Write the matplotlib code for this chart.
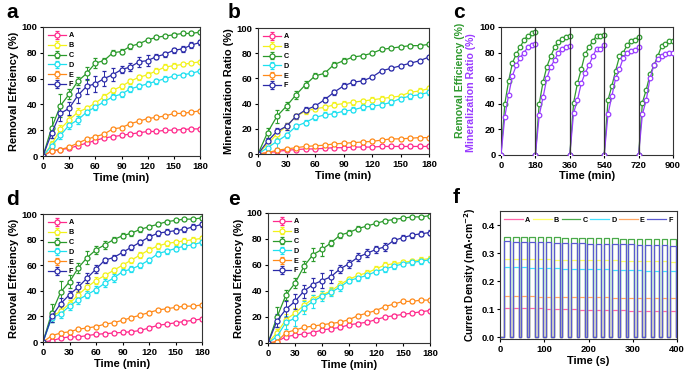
import numpy as np
import matplotlib
matplotlib.use("Agg")
import matplotlib.pyplot as plt

plt.rcParams['font.family'] = ['Liberation Sans', 'DejaVu Sans']
plt.rcParams['font.weight'] = 'bold'
plt.rcParams['axes.labelweight'] = 'bold'
plt.rcParams['mathtext.default'] = 'bf'

# ---------------- data ----------------
t = [0, 10, 20, 30, 40, 50, 60, 70, 80, 90, 100, 110, 120, 130, 140, 150, 160, 170, 180]
labels = ['A', 'B', 'C', 'D', 'E', 'F']

a_A = [0, 4, 5, 6, 8, 10, 12, 14, 15, 16, 17, 18, 19, 19, 20, 20, 20.5, 21, 21]
a_B = [0, 9, 21, 28, 34, 37, 41, 46, 51, 54, 58, 61, 63, 66, 69, 70, 71, 72, 73]
a_C = [0, 22, 39, 48, 58, 64, 72, 74, 80, 81, 85, 87, 90, 92, 93, 94, 95, 95, 96]
a_D = [0, 8, 16, 24, 28, 34, 38, 42, 46, 48, 52, 54, 56, 58, 60, 62, 63, 64, 66]
a_E = [0, 4, 5, 7, 10, 13, 15, 17, 21, 22, 25, 27, 29, 30, 31, 33, 33, 34, 35]
a_F = [0, 18, 33, 37, 47, 54, 56, 60, 63, 67, 69, 73, 74, 77, 79, 82, 83, 86, 88]
a_errA = [0, 1, 1, 1, 1, 1, 1, 1, 1, 1, 1, 1, 1, 1, 1, 1, 1, 1, 1]
a_errB = [0, 3, 3, 3, 3, 2, 2, 2, 2, 2, 2, 2, 2, 2, 2, 2, 1, 1, 1]
a_errC = [0, 8, 9, 4, 3, 5, 4, 2, 2, 2, 2, 1, 1, 1, 1, 1, 1, 1, 1]
a_errD = [0, 3, 3, 3, 3, 2, 2, 2, 2, 2, 2, 2, 2, 2, 2, 1, 1, 1, 1]
a_errE = [0, 1, 1, 1, 1, 1, 1, 1, 1, 1, 1, 1, 1, 1, 1, 1, 1, 1, 1]
a_errF = [0, 4, 6, 5, 6, 6, 6, 6, 5, 3, 3, 4, 4, 2, 2, 2, 2, 2, 2]

b_A = [0, 1, 2, 3, 3.5, 4, 4, 4.5, 5, 5, 5.5, 5.5, 5.5, 6, 6, 6, 6, 6, 6]
b_B = [0, 8, 16, 22, 30, 34, 36, 37, 39, 40, 41, 42, 43, 44, 45, 46, 49, 50, 52]
b_C = [0, 17, 30, 38, 47, 55, 62, 64, 71, 74, 77, 78, 80, 83, 84, 85, 86, 86, 87]
b_D = [0, 5, 10, 15, 22, 25, 29, 31, 32, 34, 35, 37, 38, 39, 41, 44, 46, 47, 49]
b_E = [0, 1, 3, 4, 5, 6, 6.5, 7, 8, 8.5, 9, 9.5, 10, 11, 12, 12, 12.5, 13, 13]
b_F = [0, 10, 18, 22, 30, 35, 38, 43, 49, 54, 57, 58, 61, 66, 68, 70, 72, 74, 77]
b_errA = [0, 1, 1, 1, 1, 1, 1, 1, 1, 1, 1, 1, 1, 1, 1, 1, 1, 1, 1]
b_errB = [0, 2, 3, 3, 2, 2, 2, 2, 2, 2, 2, 2, 2, 2, 2, 2, 2, 2, 2]
b_errC = [0, 4, 5, 3, 3, 3, 2, 2, 2, 2, 1, 1, 1, 1, 1, 1, 1, 1, 1]
b_errD = [0, 3, 5, 2, 2, 2, 2, 2, 2, 2, 2, 2, 2, 2, 2, 2, 2, 2, 2]
b_errE = [0, 1, 1, 1, 1, 1, 1, 1, 1, 1, 1, 1, 1, 1, 1, 1, 1, 1, 1]
b_errF = [0, 3, 3, 3, 2, 2, 2, 2, 2, 2, 2, 2, 1, 1, 1, 1, 1, 1, 1]

d_A = [0, 1, 3, 4, 4, 5, 6, 6.5, 7, 7.5, 8, 9, 11, 13, 14, 15, 16, 17, 18]
d_B = [0, 20, 24, 30, 37, 43, 48, 52, 56, 60, 64, 68, 72, 75, 77, 78, 79, 80, 81]
d_C = [0, 23, 39, 47, 58, 66, 72, 76, 80, 83, 85, 88, 90, 92, 94, 95, 96, 96, 97]
d_D = [0, 19, 22, 28, 33, 37, 41, 46, 50, 55, 57, 60, 64, 69, 71, 73, 75, 76, 78]
d_E = [0, 5, 7, 8, 10, 11, 12, 14, 15, 17, 19, 21, 23, 25, 26, 27, 28, 28, 29]
d_F = [0, 20, 30, 37, 43, 50, 57, 64, 66, 70, 74, 78, 82, 85, 86, 87, 88, 90, 92]
d_errA = [0, 1, 1, 1, 1, 1, 1, 1, 1, 1, 1, 1, 1, 1, 1, 1, 1, 1, 1]
d_errB = [0, 3, 3, 3, 3, 3, 3, 2, 2, 2, 2, 2, 2, 2, 2, 2, 2, 2, 2]
d_errC = [0, 7, 9, 5, 4, 5, 3, 3, 2, 2, 2, 2, 1, 1, 1, 1, 1, 1, 1]
d_errD = [0, 3, 3, 3, 3, 3, 3, 3, 3, 2, 2, 2, 2, 2, 2, 2, 2, 2, 2]
d_errE = [0, 1, 1, 1, 1, 1, 1, 1, 1, 1, 1, 1, 1, 1, 1, 1, 1, 1, 1]
d_errF = [0, 4, 4, 3, 4, 4, 3, 2, 2, 2, 2, 2, 2, 2, 2, 2, 2, 2, 2]

e_A = [0, 1, 5, 6, 7, 8, 10, 11, 12, 14, 15, 16, 18, 20, 21, 22, 23, 24, 25]
e_B = [0, 8, 18, 23, 29, 34, 37, 40, 45, 49, 52, 54, 57, 60, 61, 62, 63, 64, 65]
e_C = [0, 20, 37, 46, 59, 68, 72, 77, 83, 85, 88, 90, 92, 94, 95, 96, 97, 97, 98]
e_D = [0, 5, 16, 19, 27, 32, 36, 39, 43, 48, 50, 52, 55, 57, 59, 61, 62, 63, 64]
e_E = [0, 1, 8, 10, 12, 13, 14, 15, 16, 18, 21, 23, 25, 28, 30, 32, 32, 33, 33]
e_F = [0, 17, 26, 32, 40, 45, 48, 51, 57, 61, 66, 69, 72, 74, 79, 81, 83, 84, 85]
e_errA = [0, 1, 1, 1, 1, 1, 1, 1, 1, 1, 1, 1, 1, 1, 1, 1, 1, 1, 1]
e_errB = [0, 3, 4, 4, 4, 3, 3, 3, 3, 2, 2, 2, 2, 2, 2, 2, 2, 2, 2]
e_errC = [0, 8, 4, 4, 4, 5, 5, 2, 2, 2, 2, 1, 1, 1, 1, 1, 1, 1, 1]
e_errD = [0, 4, 5, 6, 5, 5, 4, 3, 3, 2, 2, 2, 2, 2, 2, 2, 2, 2, 2]
e_errE = [0, 1, 1, 1, 1, 1, 1, 1, 1, 1, 1, 1, 1, 1, 1, 1, 1, 1, 1]
e_errF = [0, 5, 6, 6, 5, 5, 6, 5, 3, 3, 3, 3, 3, 3, 2, 2, 2, 2, 2]

# panel c: 5 consecutive cycles of 180 min, sampled every 20 min
c_cycle_starts = [0, 180, 360, 540, 720]
c_cycle_time = [0, 20, 40, 60, 80, 100, 120, 140, 160, 180]
c_removal = [[0, 40, 58, 72, 79, 84, 90, 93, 95, 96],
             [0, 40, 57, 69, 77, 84, 88, 91, 92, 93],
             [0, 41, 56, 67, 79, 84, 89, 93, 93, 94],
             [0, 43, 54, 66, 77, 80, 86, 89, 90, 92],
             [0, 41, 51, 63, 70, 77, 85, 87, 89, 89]]
c_mineral = [[0, 30, 47, 62, 70, 76, 80, 84, 86, 87],
             [0, 31, 45, 60, 69, 74, 80, 83, 84, 85],
             [0, 33, 43, 56, 64, 70, 77, 83, 83, 86],
             [0, 32, 46, 60, 67, 76, 80, 81, 82, 84],
             [0, 32, 43, 60, 70, 75, 77, 79, 80, 80]]

# panel f: chopped-light photocurrent, pulse start times (s) and plateau currents
f_on = [10, 29, 47, 66, 85, 103, 122, 141, 160, 178, 197,
        216, 234, 253, 272, 290, 309, 328, 347, 365, 384]
f_on_duration = 13
f_A = [0.105, 0.105, 0.104, 0.104, 0.103, 0.102, 0.100, 0.100, 0.100, 0.099, 0.098,
       0.097, 0.097, 0.096, 0.096, 0.095, 0.095, 0.095, 0.094, 0.094, 0.094]
f_B = [0.280, 0.280, 0.279, 0.279, 0.278, 0.278, 0.277, 0.277, 0.276, 0.276, 0.275,
       0.275, 0.274, 0.274, 0.273, 0.273, 0.272, 0.272, 0.271, 0.271, 0.270]
f_C = [0.358, 0.358, 0.357, 0.357, 0.356, 0.356, 0.356, 0.355, 0.355, 0.354, 0.354,
       0.353, 0.353, 0.353, 0.352, 0.352, 0.351, 0.351, 0.351, 0.350, 0.350]
f_D = [0.250, 0.249, 0.249, 0.248, 0.247, 0.247, 0.246, 0.245, 0.245, 0.244, 0.243,
       0.242, 0.242, 0.241, 0.240, 0.240, 0.239, 0.238, 0.238, 0.237, 0.236]
f_E = [0.147, 0.147, 0.146, 0.146, 0.145, 0.145, 0.144, 0.144, 0.143, 0.143, 0.142,
       0.142, 0.142, 0.141, 0.141, 0.141, 0.140, 0.140, 0.140, 0.139, 0.139]
f_F = [0.342, 0.341, 0.340, 0.340, 0.339, 0.338, 0.337, 0.337, 0.336, 0.335, 0.334,
       0.334, 0.333, 0.332, 0.331, 0.331, 0.330, 0.329, 0.328, 0.328, 0.327]

# ---------------- style ----------------
colors = ['#ff2a8c', '#f2f21a', '#2a9a2a', '#1ee0f0', '#ff8a1a', '#2a2aa8']
f_colors = ['#ff66aa', '#ffff66', '#4aaa4a', '#44e0ff', '#ffa866', '#5a5ad0']
c_green = '#2f9a2f'
c_purple = '#9a3cff'

W, H = 691, 383
fig = plt.figure(figsize=(W / 100, H / 100), dpi=100)


def box(l, t_, r, b):
    return [l / W, 1 - b / H, (r - l) / W, (b - t_) / H]


TICK_FS = 6.8
LAB_FS = 8


def style_axis(ax):
    ax.tick_params(axis='both', which='major', direction='out', length=2.5, width=0.8,
                   labelsize=TICK_FS, pad=1.5)
    for s in ax.spines.values():
        s.set_linewidth(0.8)
        s.set_color('#333333')
    for lab in ax.get_xticklabels() + ax.get_yticklabels():
        lab.set_fontweight('bold')


def kinetic_panel(rect, series, errs, ylabel):
    ax = fig.add_axes(rect)
    for y, e, c, lab in zip(series, errs, colors, labels):
        ax.errorbar(t, y, yerr=e, color=c, lw=0.9, marker='o', ms=3.6, mew=0.9,
                    mfc='white', mec=c, capsize=1.2, elinewidth=0.7, capthick=0.7,
                    label=lab)
    ax.set_xlim(0, 180)
    ax.set_ylim(0, 100)
    ax.set_xticks([0, 30, 60, 90, 120, 150, 180])
    ax.set_yticks([0, 20, 40, 60, 80, 100])
    ax.set_xlabel('Time (min)', fontsize=LAB_FS, labelpad=1.5)
    ax.set_ylabel(ylabel, fontsize=LAB_FS, labelpad=2)
    leg = ax.legend(loc='upper left', bbox_to_anchor=(0.0, 1.0), frameon=False,
                    fontsize=5.2, handlelength=2.4, labelspacing=0.38,
                    handletextpad=0.4, borderaxespad=0.35)
    for txt in leg.get_texts():
        txt.set_fontweight('bold')
    style_axis(ax)
    return ax


ax_a = kinetic_panel(box(43, 27, 200, 156), [a_A, a_B, a_C, a_D, a_E, a_F],
                     [a_errA, a_errB, a_errC, a_errD, a_errE, a_errF], 'Removal Effciency (%)')
ax_b = kinetic_panel(box(258, 28, 429, 154), [b_A, b_B, b_C, b_D, b_E, b_F],
                     [b_errA, b_errB, b_errC, b_errD, b_errE, b_errF], 'Mineralization Ratio (%)')
ax_d = kinetic_panel(box(43, 214, 202, 342), [d_A, d_B, d_C, d_D, d_E, d_F],
                     [d_errA, d_errB, d_errC, d_errD, d_errE, d_errF], 'Removal Effciency (%)')
ax_e = kinetic_panel(box(268, 213, 430, 343), [e_A, e_B, e_C, e_D, e_E, e_F],
                     [e_errA, e_errB, e_errC, e_errD, e_errE, e_errF], 'Removal Effciency (%)')

# panel c
ax_c = fig.add_axes(box(501, 27, 673, 155))
for start, rem, mine in zip(c_cycle_starts, c_removal, c_mineral):
    xs = [start + tt for tt in c_cycle_time]
    ax_c.plot(xs, rem, color=c_green, lw=0.9, marker='o', ms=3.3, mew=0.9,
              mfc='white', mec=c_green, zorder=2)
    ax_c.plot(xs, mine, color=c_purple, lw=0.9, marker='o', ms=3.3, mew=0.9,
              mfc='white', mec=c_purple, zorder=3)
for xv in c_cycle_starts[1:]:
    ax_c.axvline(xv, color='#333333', lw=0.9, zorder=4)
ax_c.set_xlim(0, 900)
ax_c.set_ylim(0, 100)
ax_c.set_xticks([0, 180, 360, 540, 720, 900])
ax_c.set_yticks([0, 20, 40, 60, 80, 100])
ax_c.set_xlabel('Time (min)', fontsize=LAB_FS, labelpad=1)
ax_c.text(-0.238, 0.58, 'Removal Efficiency (%)', transform=ax_c.transAxes, rotation=90,
          ha='center', va='center', color=c_green, fontsize=7.6, fontweight='bold')
ax_c.text(-0.172, 0.49, 'Mineralization Ratio (%)', transform=ax_c.transAxes, rotation=90,
          ha='center', va='center', color=c_purple, fontsize=7.6, fontweight='bold')
style_axis(ax_c)

# panel f
ax_f = fig.add_axes(box(500, 211, 677, 339))
f_series = [f_A, f_B, f_C, f_D, f_E, f_F]
for vals, c, lab in zip(f_series, f_colors, labels):
    xs, ys = [0], [0]
    for ton, v in zip(f_on, vals):
        xs += [ton, ton, ton + f_on_duration, ton + f_on_duration]
        ys += [0, v, v, 0]
    xs.append(400)
    ys.append(0)
    ax_f.plot(xs, ys, color=c, lw=0.9, label=lab)
ax_f.set_xlim(0, 400)
ax_f.set_ylim(-0.006, 0.45)
ax_f.set_xticks([0, 100, 200, 300, 400])
ax_f.set_yticks([0.0, 0.1, 0.2, 0.3, 0.4])
ax_f.set_xlabel('Time (s)', fontsize=LAB_FS, labelpad=1.5)
ax_f.set_ylabel('Current Density (mA$\\cdot$cm$^{-2}$)', fontsize=7.4, labelpad=2)
legf = ax_f.legend(loc='upper center', bbox_to_anchor=(0.0, 0.99, 1.0, 0.0), mode='expand',
                   ncol=6, frameon=False, fontsize=5.2, handlelength=2.6,
                   handletextpad=0.3, columnspacing=0.4, borderaxespad=0.2)
for txt in legf.get_texts():
    txt.set_fontweight('bold')
style_axis(ax_f)

# panel letters
for ch, x, y in [('a', 6, 3), ('b', 228, 3), ('c', 453, 3),
                 ('d', 6, 190), ('e', 228, 190), ('f', 453, 188)]:
    fig.text(x / W, 1 - y / H, ch, fontsize=15, fontweight='bold', ha='left', va='top')

fig.savefig('out.png', dpi=100)
